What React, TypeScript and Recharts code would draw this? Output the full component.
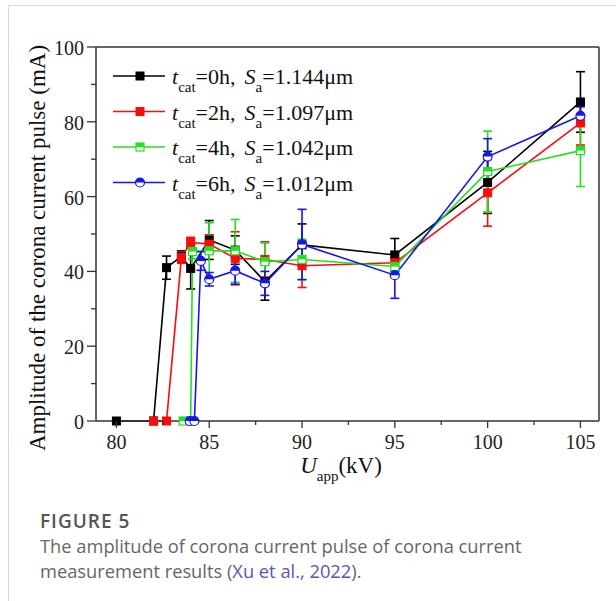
import React from "react";
import { LineChart, Line, XAxis, YAxis, ErrorBar, ReferenceLine, Legend } from "recharts";

// applied voltage (kV), pulse amplitude (mA), error (± mA)
const volt0 = [80, 82, 82.7, 83.5, 84, 85, 86.4, 88, 90, 95, 100, 105];
const amp0 = [0, 0, 41, 44, 40.8, 48.4, 45.7, 37.3, 47.1, 44.4, 63.8, 85.3];
const err0 = [0, 0, 3.1, 1.5, 5.5, 5.2, 3.8, 5, 5.6, 4.4, 8.3, 8.1];

const volt2 = [82, 82.7, 83.5, 84, 85, 86.4, 88, 90, 95, 100, 105];
const amp2 = [0, 0, 43.7, 47.8, 47.3, 43.5, 43.2, 41.5, 42.3, 61, 79.7];
const err2 = [0, 0, 1.5, 1.3, 2.5, 7.1, 4.7, 5.8, 1.3, 8.9, 5.9];

const volt4 = [83.6, 84, 84.1, 85, 86.4, 88, 90, 95, 100, 105];
const amp4 = [0, 0, 45.3, 45.5, 45.5, 42.6, 43.2, 41.3, 66.7, 72.3];
const err4 = [0, 0, 2, 7.5, 8.4, 5, 5.4, 1.3, 10.8, 9.6];

const volt6 = [83.95, 84.2, 84.55, 85, 86.4, 88, 90, 95, 100, 105];
const amp6 = [0, 0, 42.8, 37.9, 40.2, 36.8, 47.2, 39, 70.7, 81.6];
const err6 = [0, 0, 2.5, 1.8, 3.6, 3.2, 9.4, 6.2, 4.8, 2.4];

const catTimes = ["0h", "2h", "4h", "6h"];
const roughness = ["1.144μm", "1.097μm", "1.042μm", "1.012μm"];

const xTicks = [80, 82.5, 85, 87.5, 90, 92.5, 95, 97.5, 100, 102.5, 105];
const yTicks = [0, 10, 20, 30, 40, 50, 60, 70, 80, 90, 100];

const serif = "'Liberation Serif', 'Times New Roman', serif";
const axisColor = "#333";

const toRows = (xs: number[], ys: number[], es: number[]) =>
  xs.map((x, i) => ({ x, y: ys[i], err: [es[i], es[i]] }));

const series = [
  { color: "#000000", marker: "square", rows: toRows(volt0, amp0, err0) },
  { color: "#ff0a0a", marker: "square", rows: toRows(volt2, amp2, err2) },
  { color: "#22e022", marker: "halfSquare", rows: toRows(volt4, amp4, err4) },
  { color: "#1515f0", marker: "halfCircle", rows: toRows(volt6, amp6, err6) },
];

function Marker({ kind, cx, cy, color }: { kind: string; cx: number; cy: number; color: string }) {
  if (kind === "square") {
    return <rect x={cx - 4} y={cy - 4} width={8} height={8} fill={color} stroke={color} strokeWidth={1} />;
  }
  if (kind === "halfSquare") {
    return (
      <g>
        <rect x={cx - 4} y={cy - 4} width={8} height={8} fill="#fff" stroke={color} strokeWidth={1.2} />
        <rect x={cx - 4} y={cy - 4} width={8} height={4} fill={color} />
      </g>
    );
  }
  return (
    <g>
      <circle cx={cx} cy={cy} r={4.5} fill="#fff" stroke={color} strokeWidth={1.2} />
      <path d={`M${cx - 4.5},${cy} A4.5,4.5 0 0 1 ${cx + 4.5},${cy} Z`} fill={color} />
    </g>
  );
}

const makeDot = (kind: string, color: string) => (props: any) => {
  const { cx, cy, index } = props;
  if (cx == null || cy == null) return <g key={index} />;
  return (
    <g key={`${kind}-${index}`}>
      <Marker kind={kind} cx={cx} cy={cy} color={color} />
    </g>
  );
};

function XTick({ x, y, payload }: any) {
  const major = payload.value % 5 === 0;
  return (
    <g>
      <line x1={x} x2={x} y1={y} y2={y + (major ? 7 : 4)} stroke={axisColor} strokeWidth={1.3} />
      {major && (
        <text x={x} y={y + 28} textAnchor="middle" fontFamily={serif} fontSize={20} fill="#222">
          {payload.value}
        </text>
      )}
    </g>
  );
}

function YTick({ x, y, payload }: any) {
  const major = payload.value % 20 === 0;
  return (
    <g>
      <line x1={x} x2={x - (major ? 9 : 5)} y1={y} y2={y} stroke={axisColor} strokeWidth={1.3} />
      {major && (
        <text x={x - 12} y={y + 8} textAnchor="end" fontFamily={serif} fontSize={20} fill="#222">
          {payload.value}
        </text>
      )}
    </g>
  );
}

function LegendBox() {
  return (
    <svg width={300} height={150}>
      {series.map((s, i) => {
        const cy = 18 + i * 35.5;
        return (
          <g key={i}>
            <line x1={13} x2={65} y1={cy} y2={cy} stroke={s.color} strokeWidth={1.6} />
            <Marker kind={s.marker} cx={40} cy={cy} color={s.color} />
            <text x={72} y={cy + 8} fontFamily={serif} fontSize={22} fill="#111">
              <tspan fontStyle="italic">t</tspan>
              <tspan fontSize={15} dy={8}>cat</tspan>
              <tspan dy={-8}>={catTimes[i]},</tspan>
              <tspan fontStyle="italic" dx={9}>S</tspan>
              <tspan fontSize={15} dy={8}>a</tspan>
              <tspan dy={-8}>={roughness[i]}</tspan>
            </text>
          </g>
        );
      })}
    </svg>
  );
}

export default function App() {
  return (
    <div style={{ position: "absolute", left: 0, top: 0, width: 616, height: 601, background: "#fff" }}>
      <div
        style={{
          position: "absolute",
          left: 8,
          top: 5,
          width: 608,
          height: 596,
          borderLeft: "1px solid #d8d8d8",
          borderTop: "1px solid #d8d8d8",
        }}
      />
      <div style={{ position: "absolute", left: 0, top: 0 }}>
        <LineChart width={616} height={490} margin={{ top: 47, right: 17, left: 0, bottom: 0 }}>
          <XAxis
            type="number"
            dataKey="x"
            domain={[78.9, 106]}
            ticks={xTicks}
            allowDataOverflow
            height={69}
            tickSize={0}
            tickMargin={0}
            tick={<XTick />}
            axisLine={{ stroke: axisColor, strokeWidth: 1.5 }}
            label={{
              content: () => (
                <text x={341} y={473} textAnchor="middle" fontFamily={serif} fontSize={23} fill="#111">
                  <tspan fontStyle="italic">U</tspan>
                  <tspan fontSize={15} dy={8}>app</tspan>
                  <tspan dy={-8}>(kV)</tspan>
                </text>
              ),
            }}
          />
          <YAxis
            type="number"
            domain={[0, 100]}
            ticks={yTicks}
            width={96}
            tickSize={0}
            tickMargin={0}
            tick={<YTick />}
            axisLine={{ stroke: axisColor, strokeWidth: 1.5 }}
            label={{
              content: () => (
                <text
                  x={45}
                  y={248}
                  transform="rotate(-90, 45, 248)"
                  textAnchor="middle"
                  fontFamily={serif}
                  fontSize={23}
                  fill="#111"
                >
                  Amplitude of the corona current pulse (mA)
                </text>
              ),
            }}
          />
          <ReferenceLine y={100} stroke={axisColor} strokeWidth={1.5} />
          <ReferenceLine x={106} stroke={axisColor} strokeWidth={1.5} />
          {series.map((s, i) => (
            <Line
              key={i}
              data={s.rows}
              dataKey="y"
              type="linear"
              stroke={s.color}
              strokeWidth={1.6}
              dot={makeDot(s.marker, s.color)}
              activeDot={false}
              isAnimationActive={false}
            >
              <ErrorBar dataKey="err" direction="y" width={4.5} stroke={s.color} strokeWidth={1.6} />
            </Line>
          ))}
          <Legend
            layout="vertical"
            align="center"
            verticalAlign="middle"
            wrapperStyle={{ left: 100, top: 58, width: 300, height: 150 }}
            content={() => <LegendBox />}
          />
        </LineChart>
      </div>
      <div
        style={{
          position: "absolute",
          left: 40,
          top: 508,
          fontFamily: "'Open Sans', sans-serif",
          fontSize: 19,
          fontWeight: 600,
          letterSpacing: 1,
          color: "#555",
        }}
      >
        FIGURE 5
      </div>
      <div
        style={{
          position: "absolute",
          left: 40,
          top: 533,
          width: 570,
          fontFamily: "'Open Sans', sans-serif",
          fontSize: 18.3,
          lineHeight: "25px",
          color: "#666",
        }}
      >
        The amplitude of corona current pulse of corona current
        <br />
        measurement results (<span style={{ color: "#5a55b5" }}>Xu et al., 2022</span>).
      </div>
    </div>
  );
}
